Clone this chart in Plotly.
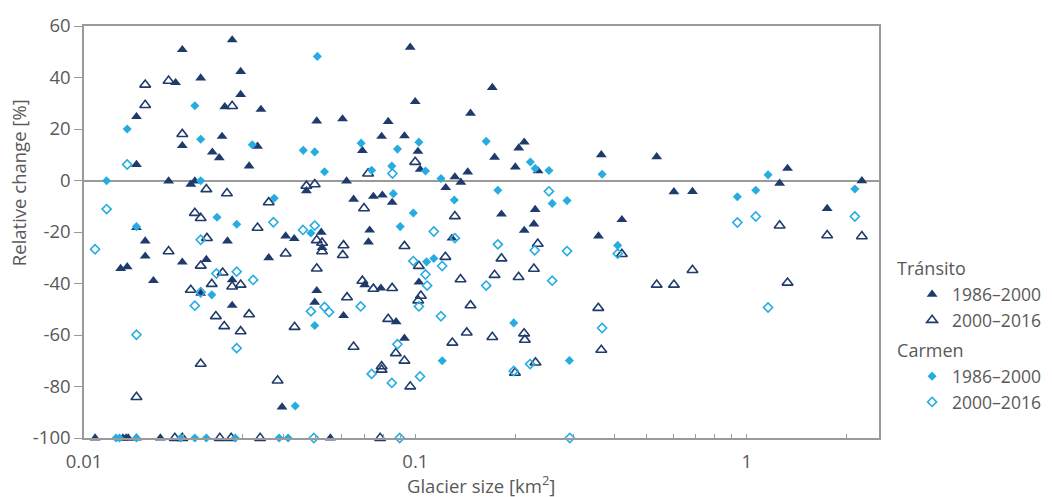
import plotly.graph_objects as go

# ---------------- data ----------------
# Tránsito 1986–2000
tr1_size = [0.0280, 0.0198, 0.0297, 0.0189, 0.0225, 0.0297, 0.0266, 0.0342, 0.0144, 0.0261,
            0.0198, 0.0244, 0.0256, 0.0334, 0.0315, 0.0144, 0.0180, 0.0210, 0.0216, 0.0144,
            0.0153, 0.0271, 0.0153, 0.0129, 0.0135, 0.0198, 0.0234, 0.0361, 0.0162, 0.0280,
            0.0225, 0.0280,
            0.0965, 0.0999, 0.0504, 0.0603, 0.0828, 0.0791, 0.0927, 0.0692, 0.1018, 0.1034,
            0.0620, 0.0469, 0.1316, 0.1235, 0.1372, 0.0651, 0.0747, 0.0795, 0.0851, 0.0728,
            0.0520, 0.0406, 0.0431, 0.0722, 0.0504, 0.0497, 0.0607, 0.0703, 0.0787, 0.0875,
            0.0927, 0.1025, 0.1289, 0.0396, 0.0523,
            0.1707, 0.1467, 0.2131, 0.2051, 0.1734, 0.2003, 0.2347, 0.1439, 0.364, 0.535,
            0.603, 0.2299, 0.1819, 0.2279, 0.420, 0.2131, 0.357, 0.686, 1.328, 1.257,
            1.749, 2.226,
            0.0108, 0.0131, 0.0134, 0.0136, 0.0144, 0.0170, 0.0554]
tr1_change = [54.6, 50.8, 42.3, 38.0, 39.8, 33.4, 28.6, 27.6, 24.8, 17.1,
              13.5, 11.0, 8.8, 13.3, 5.6, 6.2, -0.2, -1.5, -0.2, -18.3,
              -23.5, -23.5, -29.4, -34.2, -33.5, -31.7, -30.7, -30.0, -38.9, -38.6,
              -43.8, -48.5,
              51.7, 30.6, 23.1, 23.9, 22.9, 17.1, 17.3, 11.6, 11.3, 4.3,
              -0.2, -4.0, 1.4, -2.8, -0.7, -7.3, -6.2, -5.7, -8.5, -19.3,
              -20.1, -21.6, -22.6, -23.9, -42.8, -47.3, -52.5, -40.5, -41.8, -54.9,
              -61.3, -39.5, -22.4, -88.0, -26.1,
              36.1, 26.1, 14.9, 12.6, 9.0, 5.2, 3.7, 3.3, 10.0, 9.2,
              -4.4, -11.3, -13.1, -16.9, -15.2, -19.4, -21.6, -4.3, 4.7, -1.1,
              -10.9, -0.1,
              -100, -100, -100, -100, -100, -100, -100]

# Tránsito 2000–2016
tr2_size = [0.0153, 0.0180, 0.0153, 0.0280, 0.0198, 0.0234, 0.0270, 0.0361, 0.0216, 0.0225,
            0.0334,
            0.0235, 0.0180, 0.0225, 0.0262, 0.0243, 0.0297, 0.0280, 0.0210, 0.0250, 0.0315,
            0.0265, 0.0297, 0.0225, 0.0144, 0.0384,
            0.0999, 0.0720, 0.0469, 0.0497, 0.0700, 0.1316,
            0.0504, 0.0523, 0.0523, 0.0406, 0.0607, 0.0604, 0.0927, 0.0504, 0.0692, 0.0747,
            0.0851, 0.0622, 0.1232, 0.1025, 0.1369, 0.1039, 0.1020, 0.0432, 0.0828, 0.0651,
            0.0873, 0.0927, 0.0791, 0.0791, 0.1293, 0.0965, 0.1429,
            0.2341, 0.1819, 0.2279, 0.1734, 0.2049, 0.420, 0.1467, 0.1707, 0.2129, 0.2140,
            0.3565, 0.364, 0.2305, 0.1998, 0.535, 0.603,
            1.257, 1.749, 2.226, 0.686, 1.328,
            0.0188, 0.0198, 0.0257, 0.0278, 0.0340, 0.0783]
tr2_change = [37.2, 38.7, 29.3, 28.9, 18.0, -3.4, -5.0, -8.5, -12.6, -14.6,
              -18.4,
              -22.4, -27.5, -33.1, -35.8, -40.2, -40.5, -41.2, -42.5, -52.7, -52.0,
              -56.6, -58.6, -71.2, -84.1, -77.7,
              7.2, 2.7, -2.1, -1.5, -10.8, -13.9,
              -23.2, -24.2, -27.5, -28.4, -25.2, -29.0, -25.5, -34.2, -39.0, -42.1,
              -41.8, -45.4, -29.7, -33.2, -38.4, -44.8, -46.6, -56.9, -53.8, -64.6,
              -67.1, -70.0, -72.2, -73.5, -63.0, -80.0, -59.1,
              -24.6, -30.3, -34.3, -36.7, -37.5, -28.6, -48.5, -60.8, -59.4, -61.9,
              -49.5, -65.8, -70.7, -74.7, -40.5, -40.5,
              -17.5, -21.3, -21.7, -34.8, -39.7,
              -100, -100, -100, -100, -100, -100]

# Carmen 1986–2000
ca1_size = [0.0216, 0.0135, 0.0225, 0.0322, 0.0117, 0.0225, 0.0375, 0.0252, 0.0289, 0.0144,
            0.0243,
            0.0506, 0.0459, 0.0497, 0.0686, 0.0883, 0.1025, 0.0532, 0.0738, 0.0849, 0.1073,
            0.1195, 0.0858, 0.1311, 0.0986, 0.0900,
            0.0484, 0.1081, 0.1137, 0.0497, 0.1205, 0.0434,
            0.1636, 0.2224, 0.2299, 0.2530, 0.3661, 0.1774, 0.2588, 0.2869, 0.408, 0.1981,
            0.2917,
            0.937, 1.065, 1.160, 2.12,
            0.0125, 0.0128, 0.0144, 0.0196, 0.0216, 0.0234, 0.0286, 0.0388, 0.0413]
ca1_change = [29.0, 20.0, 16.0, 13.9, -0.1, -0.1, -6.9, -14.3, -17.0, -17.9,
              -44.4,
              48.2, 11.7, 11.1, 14.5, 12.2, 14.9, 3.4, 4.0, 5.6, 3.7,
              0.8, -5.1, -7.6, -12.6, -17.9,
              -20.4, -31.6, -30.3, -56.3, -70.0, -87.6,
              15.2, 7.2, 4.7, 3.9, 2.4, -3.8, -8.9, -7.8, -25.2, -55.3,
              -69.9,
              -6.3, -3.8, 2.2, -3.3,
              -100, -100, -100, -100, -100, -100, -100, -100, -100]

# Carmen 2000–2016
ca2_size = [0.0135, 0.0117, 0.0373,
            0.0108, 0.0225, 0.0251, 0.0289, 0.0324, 0.0225, 0.0216, 0.0144, 0.0289,
            0.0853, 0.0458, 0.0497, 0.1137,
            0.1316, 0.0986, 0.1205, 0.1073, 0.1085, 0.1025, 0.1195, 0.0484, 0.0532, 0.0549,
            0.0684, 0.0883, 0.0738, 0.0849, 0.1033,
            0.1774, 0.2292, 0.2869, 0.408, 0.2588, 0.1636, 0.3661, 0.1981, 0.2220, 0.2530,
            0.937, 1.065, 1.160, 2.12,
            0.0494, 0.0897, 0.2925]
ca2_change = [6.2, -11.1, -16.2,
              -26.7, -23.0, -36.1, -35.4, -38.6, -43.4, -48.6, -59.9, -65.1,
              2.7, -19.2, -17.5, -19.8,
              -22.4, -31.3, -33.2, -36.5, -40.8, -48.9, -52.7, -50.8, -49.1, -51.1,
              -48.9, -63.6, -75.1, -78.6, -76.1,
              -24.8, -27.1, -27.4, -28.4, -38.9, -40.8, -57.3, -74.0, -71.3, -4.2,
              -16.3, -14.0, -49.3, -14.0,
              -100, -100, -100]

y_ticks = [-100, -80, -60, -40, -20, 0, 20, 40, 60]
y_tick_labels = ["-100", "-80", "-60", "-40", "-20", "0", "20", "40", "60"]
x_ticks = [0.01, 0.1, 1]
x_tick_labels = ["0.01", "0.1", "1"]
x_minor = [0.02, 0.03, 0.04, 0.05, 0.06, 0.07, 0.08, 0.09,
           0.2, 0.3, 0.4, 0.5, 0.6, 0.7, 0.8, 0.9, 2]

# ---------------- style ----------------
NAVY = "#1f3b6b"
CYAN = "#27ace2"
GREY_TXT = "#595959"
GREY_LINE = "#9a9a9a"
FONT = "Open Sans"
FS = 18.5
LFS = 17.5

fig = go.Figure()

fig.add_trace(go.Scatter(
    x=tr1_size, y=tr1_change, mode="markers", name="1986–2000",
    legendgroup="tr", legendgrouptitle=dict(text="Tránsito", font=dict(size=LFS + 0.5, color=GREY_TXT)),
    marker=dict(symbol="triangle-up", size=9.5, color=NAVY, line=dict(width=0)),
    cliponaxis=False))
fig.add_trace(go.Scatter(
    x=tr2_size, y=tr2_change, mode="markers", name="2000–2016",
    legendgroup="tr",
    marker=dict(symbol="triangle-up-open", size=9.5, color=NAVY, line=dict(width=1.6, color=NAVY)),
    cliponaxis=False))
fig.add_trace(go.Scatter(
    x=ca1_size, y=ca1_change, mode="markers", name="1986–2000",
    legendgroup="ca", legendgrouptitle=dict(text="Carmen", font=dict(size=LFS + 0.5, color=GREY_TXT)),
    marker=dict(symbol="diamond", size=7, color=CYAN, line=dict(width=0)),
    cliponaxis=False))
fig.add_trace(go.Scatter(
    x=ca2_size, y=ca2_change, mode="markers", name="2000–2016",
    legendgroup="ca",
    marker=dict(symbol="diamond-open", size=7, color=CYAN, line=dict(width=1.6, color=CYAN)),
    cliponaxis=False))

fig.update_layout(
    width=1052, height=497,
    margin=dict(l=84, r=166, t=22, b=59),
    paper_bgcolor="white", plot_bgcolor="white",
    font=dict(family=FONT, size=FS, color=GREY_TXT),
    showlegend=True,
    legend=dict(
        xref="container", yref="container",
        x=0.848, y=0.497, xanchor="left", yanchor="top",
        tracegroupgap=4, indentation=20,
        font=dict(family=FONT, size=LFS, color=GREY_TXT),
        bgcolor="rgba(0,0,0,0)", itemsizing="trace",
    ),
    xaxis=dict(
        type="log", range=[-2, 0.398],
        tickmode="array", tickvals=x_ticks, ticktext=x_tick_labels,
        ticks="inside", ticklen=4, tickwidth=1, tickcolor=GREY_LINE,
        ticklabelstandoff=6,
        minor=dict(tickmode="array", tickvals=x_minor, ticks="inside", ticklen=4,
                   tickwidth=1, tickcolor=GREY_LINE, showgrid=False),
        showline=True, linecolor=GREY_LINE, linewidth=1.5, mirror=True,
        showgrid=False, zeroline=False,
    ),
    yaxis=dict(
        range=[-100, 60],
        tickmode="array", tickvals=y_ticks, ticktext=y_tick_labels,
        ticks="outside", ticklen=8, tickwidth=1, tickcolor=GREY_LINE,
        showline=True, linecolor=GREY_LINE, linewidth=1.5, mirror=True,
        showgrid=False, zeroline=True, zerolinecolor=GREY_LINE, zerolinewidth=1.5,
    ),
    annotations=[
        dict(text="Relative change [%]", xref="paper", yref="paper",
             x=-0.0823, y=0.62, textangle=-90, showarrow=False,
             xanchor="center", yanchor="middle", font=dict(size=FS, color=GREY_TXT)),
        dict(text="Glacier size [km<sup>2</sup>]", xref="paper", yref="paper",
             x=0.5, y=-0.112, showarrow=False,
             xanchor="center", yanchor="middle", font=dict(size=FS, color=GREY_TXT)),
    ],
)

fig.write_html("out.html")
